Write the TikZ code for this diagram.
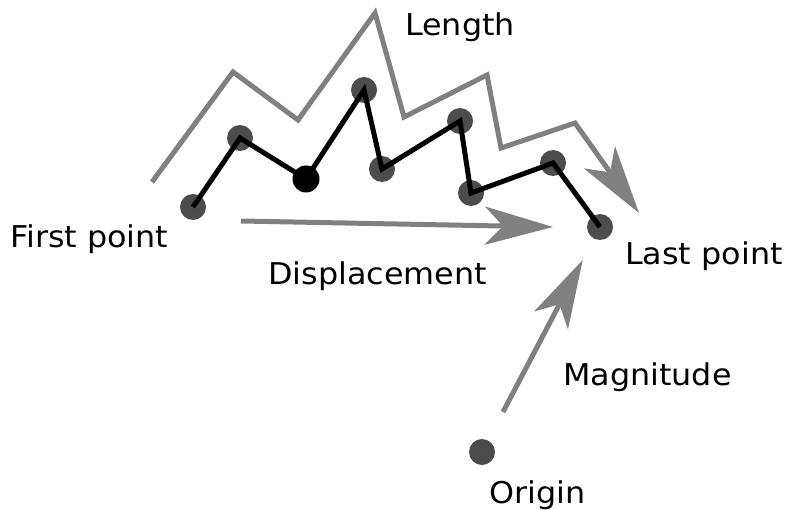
\documentclass[tikz,border=0pt]{standalone}
\usepackage{fontspec}
\setmainfont{DejaVu Sans}[FakeStretch=1.06]
\usetikzlibrary{arrows.meta}

\tikzset{
  pt/.style={circle, fill=black!70, minimum size=26pt, inner sep=0pt},
  lbl/.style={anchor=base west, inner sep=0pt, font=\fontsize{30}{36}\selectfont},
  big/.style={draw=gray, line width=5pt, -{Stealth[length=68pt, width=38pt, inset=18pt]}},
}

\begin{document}
\begin{tikzpicture}[x=1pt, y=-1pt]
  \useasboundingbox (0,0) rectangle (789,510);%
  % the recorded points
  \node[pt] (p1) at (193,207) {};%
  \node[pt] (p2) at (240,138) {};%
  \node[pt, fill=black, minimum size=27pt] (p3) at (306,179) {};%
  \node[pt] (p4) at (364,90) {};%
  \node[pt] (p5) at (382,169) {};%
  \node[pt] (p6) at (460,121) {};%
  \node[pt] (p7) at (471,193) {};%
  \node[pt] (p8) at (553,163) {};%
  \node[pt] (p9) at (600,227) {};%
  \node[pt] (o) at (482,452) {};%
  % path through the points
  \draw[line width=5pt] (p1.center) -- (p2.center) -- (p3.center) -- (p4.center)
    -- (p5.center) -- (p6.center) -- (p7.center) -- (p8.center) -- (p9.center);%
  % length
  \coordinate (l1) at (152,182);%
  \coordinate (l2) at (233,72);%
  \coordinate (l3) at (298,120);%
  \coordinate (l4) at (375,13);%
  \coordinate (l5) at (404,117);%
  \coordinate (l6) at (487,75);%
  \coordinate (l7) at (501,148);%
  \coordinate (l8) at (575,123);%
  \coordinate (l9) at (639,213);%
  \draw[big] (l1) -- (l2) -- (l3) -- (l4) -- (l5) -- (l6) -- (l7) -- (l8) -- (l9);%
  % displacement
  \coordinate (d0) at (241,221);%
  \coordinate (d1) at (553,227);%
  \draw[big] (d0) -- (d1);%
  % magnitude
  \draw[big, shorten <=32pt, shorten >=24pt] (o) -- (p9);%
  % labels
  \node[lbl] (first) at (10,248) {First point};%
  \node[lbl] (disp) at (268,285) {Displacement};%
  \node[lbl] (last) at (625,265) {Last point};%
  \node[lbl] (mag) at (563,385) {Magnitude};%
  \node[lbl] (orig) at (489,503) {Origin};%
  \node[lbl] (len) at (405,36) {Length};%
\end{tikzpicture}
\end{document}
